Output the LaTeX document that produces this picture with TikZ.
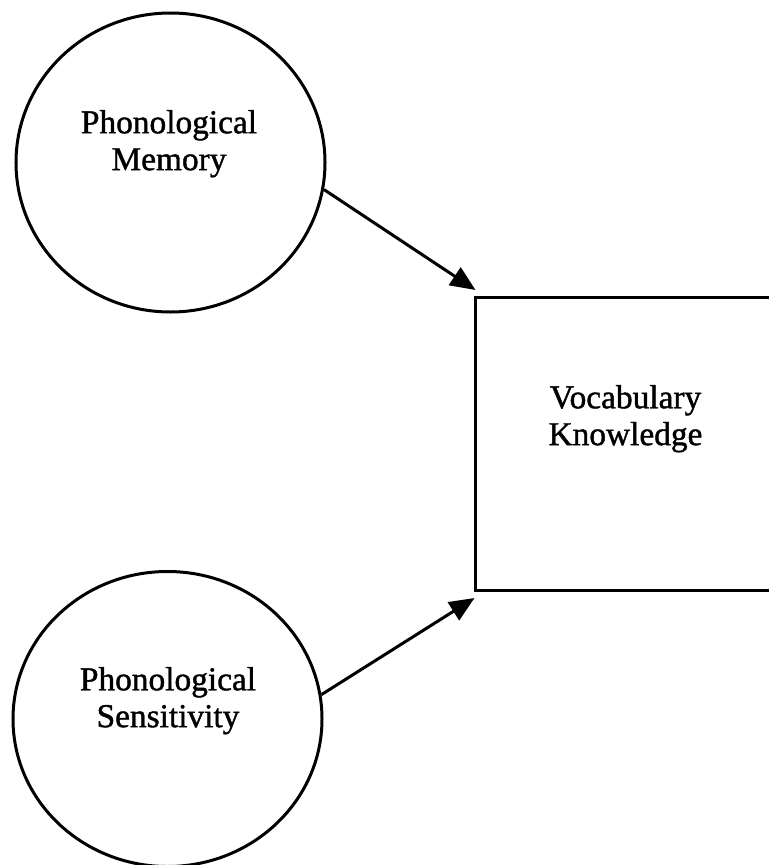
\documentclass[tikz,border=0pt]{standalone}
\usepackage{fontspec}
\setmainfont{Liberation Serif}
\newfontfamily\scanfont[FakeBold=1.2]{Liberation Serif}
\usetikzlibrary{shapes.geometric,arrows.meta}
\begin{document}
\begin{tikzpicture}[x=1bp,y=-1bp,
  latent/.style={draw=black,line width=3bp,ellipse,inner sep=0pt,minimum width=309bp,minimum height=299bp},
  observed/.style={draw=black,line width=3bp,rectangle,inner sep=0pt,minimum width=315bp,minimum height=293bp},
  lbl/.style={align=center,inner sep=0pt,font=\scanfont\fontsize{33.5}{37}\selectfont},
  path/.style={line width=3bp,-{Triangle[length=25bp,width=21bp]}}]
\useasboundingbox (0,0) rectangle (769,865);
\node[latent] (pm) at (170.5,162.5) {};
\node[latent,minimum height=295bp] (ps) at (167.5,719) {};
\node[observed] (vk) at (632.5,443.5) {};
\node[lbl] (pmt) at (169,143.7) {Phonological\\Memory};
\node[lbl] (pst) at (168,700.7) {Phonological\\Sensitivity};
\node[lbl] (vkt) at (625.5,418.7) {Vocabulary\\Knowledge};
\coordinate (t1) at (475.5,290);
\coordinate (t2) at (474.5,598);
\draw[path] (pm.-10) -- (t1);
\draw[path] (ps.9) -- (t2);
\end{tikzpicture}
\end{document}
